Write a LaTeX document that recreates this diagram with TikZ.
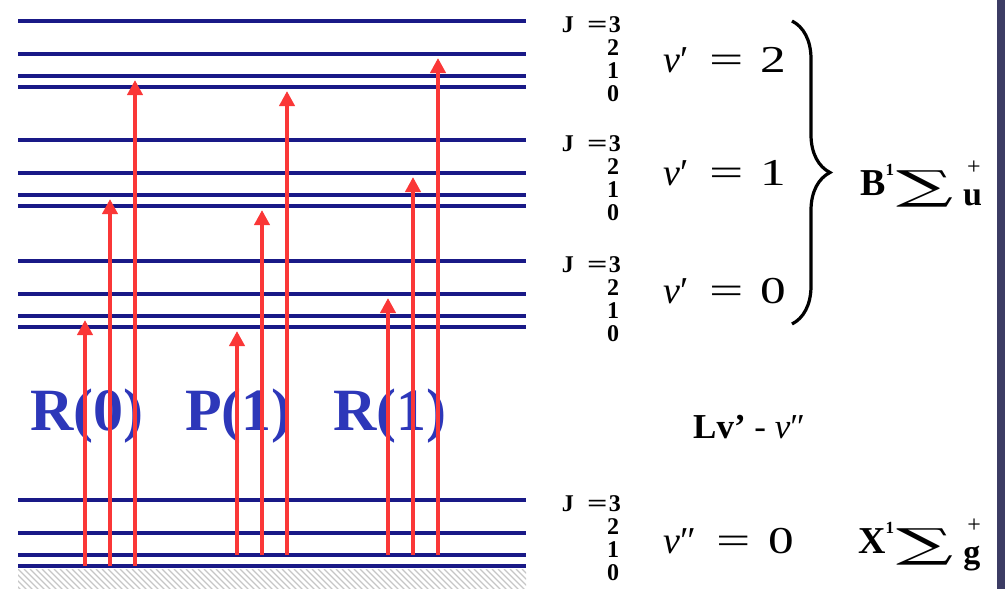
\documentclass[tikz,border=0pt]{standalone}
\usepackage{fontspec}
\setmainfont{Liberation Serif}
\newfontfamily\sumfont{DejaVu Serif}
\usepackage{graphicx}
\usepackage{tikz}
\usetikzlibrary{arrows.meta, decorations.pathreplacing}

\definecolor{levelblue}{RGB}{25,25,135}
\definecolor{labelblue}{RGB}{45,55,185}
\definecolor{arrowred}{RGB}{250,55,55}
\definecolor{edgebar}{RGB}{60,60,100}

% term symbol: letter, superscript 1, sum sign, + over subscript
\newcommand{\termsym}[2]{{\fontsize{38}{38}\selectfont\bfseries #1}%
  \raisebox{20pt}{\fontsize{17}{17}\selectfont\bfseries 1}\hspace{2pt}%
  \raisebox{-4pt}{\scalebox{2}[1]{\sumfont\fontsize{40}{40}\selectfont ∑}}\hspace{10pt}%
  \makebox[0pt][l]{\raisebox{21pt}{\hspace{4pt}\fontsize{24}{24}\selectfont +}}%
  \raisebox{-10pt}{\fontsize{34}{34}\selectfont\bfseries #2}}
% vibrational label: primes, value
\newcommand{\vibsym}[2]{{\itshape v}#1\hspace{0.55em}\scalebox{1.6}[1]{=}\hspace{0.45em}\scalebox{1.35}[1]{#2}}

\begin{document}
\begin{tikzpicture}[x=1pt, y=-1pt,
  rotlevel/.style={line width=4.2pt, levelblue},
  transarrow/.style={line width=4pt, arrowred, -{Triangle[width=15pt,length=15pt]}},
  jnum/.style={font=\fontsize{24}{24}\selectfont\bfseries, inner sep=0pt, text height=16pt, text depth=0pt},
  vlab/.style={font=\fontsize{38}{38}\selectfont, anchor=base west, inner sep=0pt},
  branchlab/.style={font=\fontsize{60}{60}\selectfont\bfseries, text=labelblue, anchor=base west, inner sep=0pt}]
\useasboundingbox (0,0) rectangle (1005,589);
% slide edge
\fill[edgebar] (997,0) rectangle (1005,589);
% rotational levels J=0..3 for each vibrational level
\foreach \v/\base in {2/87, 1/206, 0/327, g/566} {
  \foreach \J in {0,...,3} {
    \pgfmathsetmacro{\yl}{\base-5.5*\J*(\J+1)}
    \coordinate (L\v\J-w) at (18,\yl);
    \coordinate (L\v\J-e) at (526,\yl);
    \draw[rotlevel] (L\v\J-w) -- (L\v\J-e);
  }
  % J numbers
  \node[jnum, anchor=east] (J\v3) at (621,\base-63) {J\hspace{0.55em}\scalebox{1.5}[1]{=}\hspace{0.05em}3};
  \node[jnum] (J\v2) at (613,\base-40) {2};
  \node[jnum] (J\v1) at (613,\base-17) {1};
  \node[jnum] (J\v0) at (613,\base+6) {0};
}
% hatched ground
\begin{scope}
  \clip (18,569) rectangle (526,589);
  \foreach \h in {-24,-18,...,530} \draw[gray!45, line width=1.4pt] (\h,569) -- ++(22,22);
\end{scope}
% branch labels
\node[branchlab] (R0) at (30,430) {R(0)};
\node[branchlab] (P1) at (185,430) {P(1)};
\node[branchlab] (R1) at (333,430) {R(1)};
% transitions: x / lower J / upper base / upper J
\foreach \x/\jl/\ub/\ju [count=\i] in {85/0/327/1, 110/0/206/1, 135/0/87/1,
    237/1/327/0, 262/1/206/0, 287/1/87/0,
    388/1/327/2, 413/1/206/2, 438/1/87/2} {
  \pgfmathsetmacro{\ylo}{566-5.5*\jl*(\jl+1)}
  \pgfmathsetmacro{\yhi}{\ub-5.5*\ju*(\ju+1)+4}
  \coordinate (s\i) at (\x,\ylo);
  \coordinate (e\i) at (\x,\yhi);
  \draw[transarrow] (s\i) -- (e\i);
}
% vibrational labels
\node[vlab] (v2) at (663,72) {\vibsym{′}{2}};
\node[vlab] (v1) at (663,185) {\vibsym{′}{1}};
\node[vlab] (v0) at (663,303) {\vibsym{′}{0}};
\node[vlab] (vg) at (663,553) {\vibsym{″}{0}};
% brace and states
\coordinate (bt) at (792,21);
\coordinate (bb) at (792,324);
\draw[decorate, decoration={brace, amplitude=38pt}, line width=3.2pt] (bt) -- (bb);
\node[anchor=base west, inner sep=0pt] (Bst) at (860,195) {\termsym{B}{u}};
\node[anchor=base west, inner sep=0pt] (Xst) at (858,553) {\termsym{X}{g}};
\node[anchor=base west, inner sep=0pt, font=\fontsize{35}{35}\selectfont] (band) at (693,438)
  {{\bfseries Lv'} - {\itshape v}″};
\end{tikzpicture}
\end{document}
